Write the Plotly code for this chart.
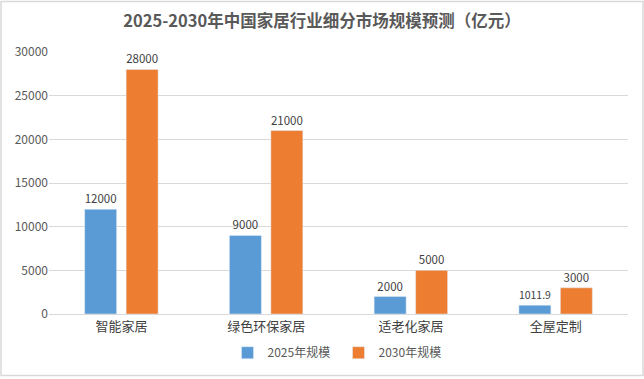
import plotly.graph_objects as go

categories = ["智能家居", "绿色环保家居", "适老化家居", "全屋定制"]
series_2025 = [12000, 9000, 2000, 1011.9]
series_2030 = [28000, 21000, 5000, 3000]
labels_2025 = ["12000", "9000", "2000", "1011.9"]
labels_2030 = ["28000", "21000", "5000", "3000"]
y_ticks = [0, 5000, 10000, 15000, 20000, 25000, 30000]
y_ticktext = ["0", "5000", "10000", "15000", "20000", "25000", "30000"]

FONT = "Noto Sans CJK SC, Microsoft YaHei, sans-serif"
L, R, T, B = 49, 16, 52, 63
PW, PH = 644 - L - R, 379 - T - B

fig = go.Figure()
fig.add_trace(go.Bar(
    name="2025年规模", x=categories, y=series_2025,
    marker_color="#5B9BD5", text=labels_2025, textposition="outside",
    textfont=dict(size=11.5, color="#404040"), cliponaxis=False,
))
fig.add_trace(go.Bar(
    name="2030年规模", x=categories, y=series_2030,
    marker_color="#ED7D31", text=labels_2030, textposition="outside",
    textfont=dict(size=11.5, color="#404040"), cliponaxis=False,
))

fig.update_layout(
    width=644, height=379,
    margin=dict(l=L, r=R, t=T, b=B),
    paper_bgcolor="white", plot_bgcolor="white",
    font=dict(family=FONT, color="#595959", size=11),
    title=dict(text="<b>2025-2030年中国家居行业细分市场规模预测（亿元）</b>",
               x=0.5, xanchor="center", y=1 - 21 / 379, yanchor="middle",
               font=dict(size=16.5, color="#595959", family=FONT)),
    barmode="group", bargap=0.427, bargroupgap=0.229,
    legend=dict(orientation="h", x=0.5, xanchor="center", y=-(355 - 316) / PH,
                yanchor="middle", font=dict(size=12, color="#595959"),
                itemwidth=30, entrywidth=66, traceorder="normal"),
    showlegend=True,
    shapes=[dict(type="rect", xref="paper", yref="paper", x0=-(L - 1) / PW, x1=1 + (R - 1) / PW,
                 y0=-(B - 1) / PH, y1=1 + (T - 1) / PH, line=dict(color="#D9D9D9", width=1.5))],
)
fig.update_xaxes(showgrid=False, showline=True, linecolor="#D9D9D9", linewidth=1,
                 ticks="", tickfont=dict(size=13, color="#404040"))
fig.update_yaxes(range=[0, 30000], tickvals=y_ticks, ticktext=y_ticktext, showgrid=True,
                 gridcolor="#D9D9D9", gridwidth=1, zeroline=False, showline=False, ticks="",
                 tickfont=dict(size=12, color="#595959"))

fig.write_html("out.html", config={"displayModeBar": False},
               post_script="document.body.style.margin='0';")
